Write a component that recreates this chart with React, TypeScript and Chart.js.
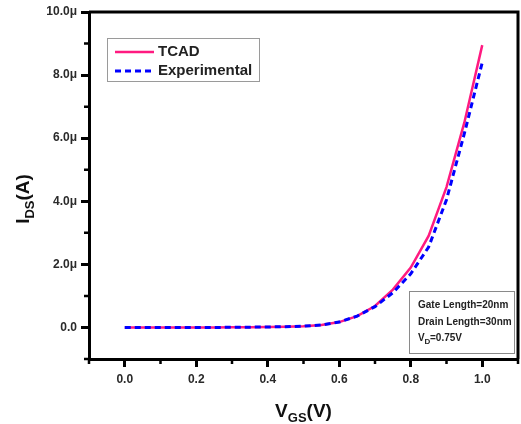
import React, { useEffect, useRef } from "react";
import { Chart, registerables } from "chart.js";

Chart.register(...registerables);

const vgs = [0, 0.05, 0.1, 0.15, 0.2, 0.25, 0.3, 0.35, 0.4, 0.45, 0.5, 0.55, 0.6, 0.65, 0.7, 0.75, 0.8, 0.85, 0.9, 0.95, 1.0];
const tcad = [0, 0, 0, 0, 0, 0, 0.005, 0.01, 0.015, 0.025, 0.04, 0.08, 0.17, 0.36, 0.68, 1.2, 1.9, 2.9, 4.45, 6.5, 8.95];
const experimental = [0, 0, 0, 0, 0, 0, 0.005, 0.01, 0.015, 0.025, 0.04, 0.08, 0.17, 0.36, 0.66, 1.1, 1.7, 2.55, 4.05, 6.15, 8.4];

const xMajorTicks = [0, 0.2, 0.4, 0.6, 0.8, 1.0];
const xMinorTicks = [-0.1, 0.1, 0.3, 0.5, 0.7, 0.9, 1.1];
const yMajorTicks = [0, 2, 4, 6, 8, 10];
const yMinorTicks = [-1, 1, 3, 5, 7, 9];

const legendLabels = ["TCAD", "Experimental"];
const infoLines = ["Gate Length=20nm", "Drain Length=30nm"];

const FONT = "'Liberation Sans', Arial, sans-serif";
const PINK = "#ff1a80";
const BLUE = "#0000ff";

const decorPlugin = {
  id: "decor",
  afterDraw(chart: any) {
    const ctx = chart.ctx;
    const { left, right, top, bottom } = chart.chartArea;
    const xs = chart.scales.x;
    const ys = chart.scales.y;
    ctx.save();
    // frame top/right
    ctx.strokeStyle = "#000";
    ctx.lineWidth = 3;
    ctx.beginPath();
    ctx.moveTo(left, top);
    ctx.lineTo(right, top);
    ctx.lineTo(right, bottom);
    ctx.stroke();
    // minor ticks
    ctx.lineWidth = 2.5;
    ctx.beginPath();
    xMinorTicks.forEach((v) => {
      const px = xs.getPixelForValue(v);
      ctx.moveTo(px, bottom);
      ctx.lineTo(px, bottom + 5);
    });
    yMinorTicks.forEach((v) => {
      const py = ys.getPixelForValue(v);
      ctx.moveTo(left, py);
      ctx.lineTo(left - 5, py);
    });
    ctx.stroke();

    // legend box
    ctx.lineWidth = 1;
    ctx.strokeStyle = "#9a9a9a";
    ctx.strokeRect(107.5, 38.5, 152, 43);
    ctx.lineWidth = 2.5;
    ctx.strokeStyle = PINK;
    ctx.beginPath();
    ctx.moveTo(115, 52);
    ctx.lineTo(154, 52);
    ctx.stroke();
    ctx.strokeStyle = BLUE;
    ctx.lineWidth = 3;
    ctx.setLineDash([6, 4]);
    ctx.beginPath();
    ctx.moveTo(115, 71);
    ctx.lineTo(154, 71);
    ctx.stroke();
    ctx.setLineDash([]);
    ctx.fillStyle = "#222";
    ctx.font = `bold 15px ${FONT}`;
    ctx.textBaseline = "middle";
    ctx.textAlign = "left";
    ctx.fillText(legendLabels[0], 158, 52);
    ctx.fillText(legendLabels[1], 158, 71);

    // info box
    ctx.lineWidth = 1;
    ctx.strokeStyle = "#8a8a8a";
    ctx.strokeRect(409.5, 291.5, 105, 62);
    ctx.font = `bold 10px ${FONT}`;
    ctx.fillStyle = "#222";
    ctx.fillText(infoLines[0], 418, 305);
    ctx.fillText(infoLines[1], 418, 322);
    ctx.fillText("V", 418, 338);
    ctx.font = `bold 8px ${FONT}`;
    ctx.fillText("D", 424.5, 342);
    ctx.font = `bold 10px ${FONT}`;
    ctx.fillText("=0.75V", 430, 338);

    // x title
    ctx.fillStyle = "#111";
    ctx.textBaseline = "alphabetic";
    const xBig = `bold 19px ${FONT}`;
    const xSmall = `bold 13px ${FONT}`;
    ctx.font = xBig;
    const wV = ctx.measureText("V").width;
    const wP = ctx.measureText("(V)").width;
    ctx.font = xSmall;
    const wGS = ctx.measureText("GS").width;
    const total = wV + wGS + wP;
    const sx = (left + right) / 2 - total / 2;
    const by = 417;
    ctx.font = xBig;
    ctx.fillText("V", sx, by);
    ctx.font = xSmall;
    ctx.fillText("GS", sx + wV, by + 5);
    ctx.font = xBig;
    ctx.fillText("(V)", sx + wV + wGS, by);

    // y title
    ctx.save();
    ctx.translate(29, 199);
    ctx.rotate(-Math.PI / 2);
    ctx.font = xBig;
    const wI = ctx.measureText("I").width;
    const wA = ctx.measureText("(A)").width;
    ctx.font = xSmall;
    const wDS = ctx.measureText("DS").width;
    const t2 = wI + wDS + wA;
    const s2 = -t2 / 2;
    ctx.font = xBig;
    ctx.fillText("I", s2, 0);
    ctx.font = xSmall;
    ctx.fillText("DS", s2 + wI, 5);
    ctx.font = xBig;
    ctx.fillText("(A)", s2 + wI + wDS, 0);
    ctx.restore();

    ctx.restore();
  },
};

export default function App() {
  const ref = useRef<HTMLCanvasElement | null>(null);
  useEffect(() => {
    if (!ref.current) return;
    const chart = new Chart(ref.current, {
      type: "line",
      data: {
        datasets: [
          {
            label: legendLabels[0],
            data: vgs.map((x, i) => ({ x, y: tcad[i] })),
            borderColor: PINK,
            borderWidth: 2.5,
            pointRadius: 0,
            tension: 0,
            fill: false,
            order: 2,
          },
          {
            label: legendLabels[1],
            data: vgs.map((x, i) => ({ x, y: experimental[i] })),
            borderColor: BLUE,
            borderWidth: 3,
            borderDash: [6, 4],
            pointRadius: 0,
            tension: 0,
            fill: false,
            order: 1,
          },
        ],
      },
      options: {
        animation: false,
        responsive: false,
        maintainAspectRatio: false,
        layout: { padding: { left: 0, top: 12, right: 3, bottom: 0 } },
        plugins: { legend: { display: false }, tooltip: { enabled: false } },
        scales: {
          x: {
            type: "linear",
            min: -0.1,
            max: 1.1,
            afterBuildTicks: (s: any) => {
              s.ticks = xMajorTicks.map((v) => ({ value: v }));
            },
            afterFit: (s: any) => {
              s.height = 65;
            },
            border: { display: true, color: "#000", width: 3 },
            grid: { drawOnChartArea: false, drawTicks: true, tickLength: 8, tickWidth: 3, tickColor: "#000" },
            ticks: {
              padding: 5,
              color: "#2a2a2a",
              font: { family: FONT, size: 12, weight: "bold" },
              callback: (v: any) => Number(v).toFixed(1),
              maxRotation: 0,
            },
          },
          y: {
            type: "linear",
            min: -1,
            max: 10,
            afterBuildTicks: (s: any) => {
              s.ticks = yMajorTicks.map((v) => ({ value: v }));
            },
            afterFit: (s: any) => {
              s.width = 89;
            },
            border: { display: true, color: "#000", width: 3 },
            grid: { drawOnChartArea: false, drawTicks: true, tickLength: 8, tickWidth: 3, tickColor: "#000" },
            ticks: {
              padding: 4,
              color: "#2a2a2a",
              font: { family: FONT, size: 12, weight: "bold" },
              callback: (v: any) => (Number(v) === 0 ? "0.0" : Number(v).toFixed(1) + "μ"),
            },
          },
        },
      },
      plugins: [decorPlugin],
    } as any);
    return () => chart.destroy();
  }, []);
  return (
    <div style={{ position: "fixed", left: 0, top: 0, width: 521, height: 424, background: "#fff" }}>
      <canvas ref={ref} width={521} height={424} style={{ width: 521, height: 424, display: "block" }} />
    </div>
  );
}
